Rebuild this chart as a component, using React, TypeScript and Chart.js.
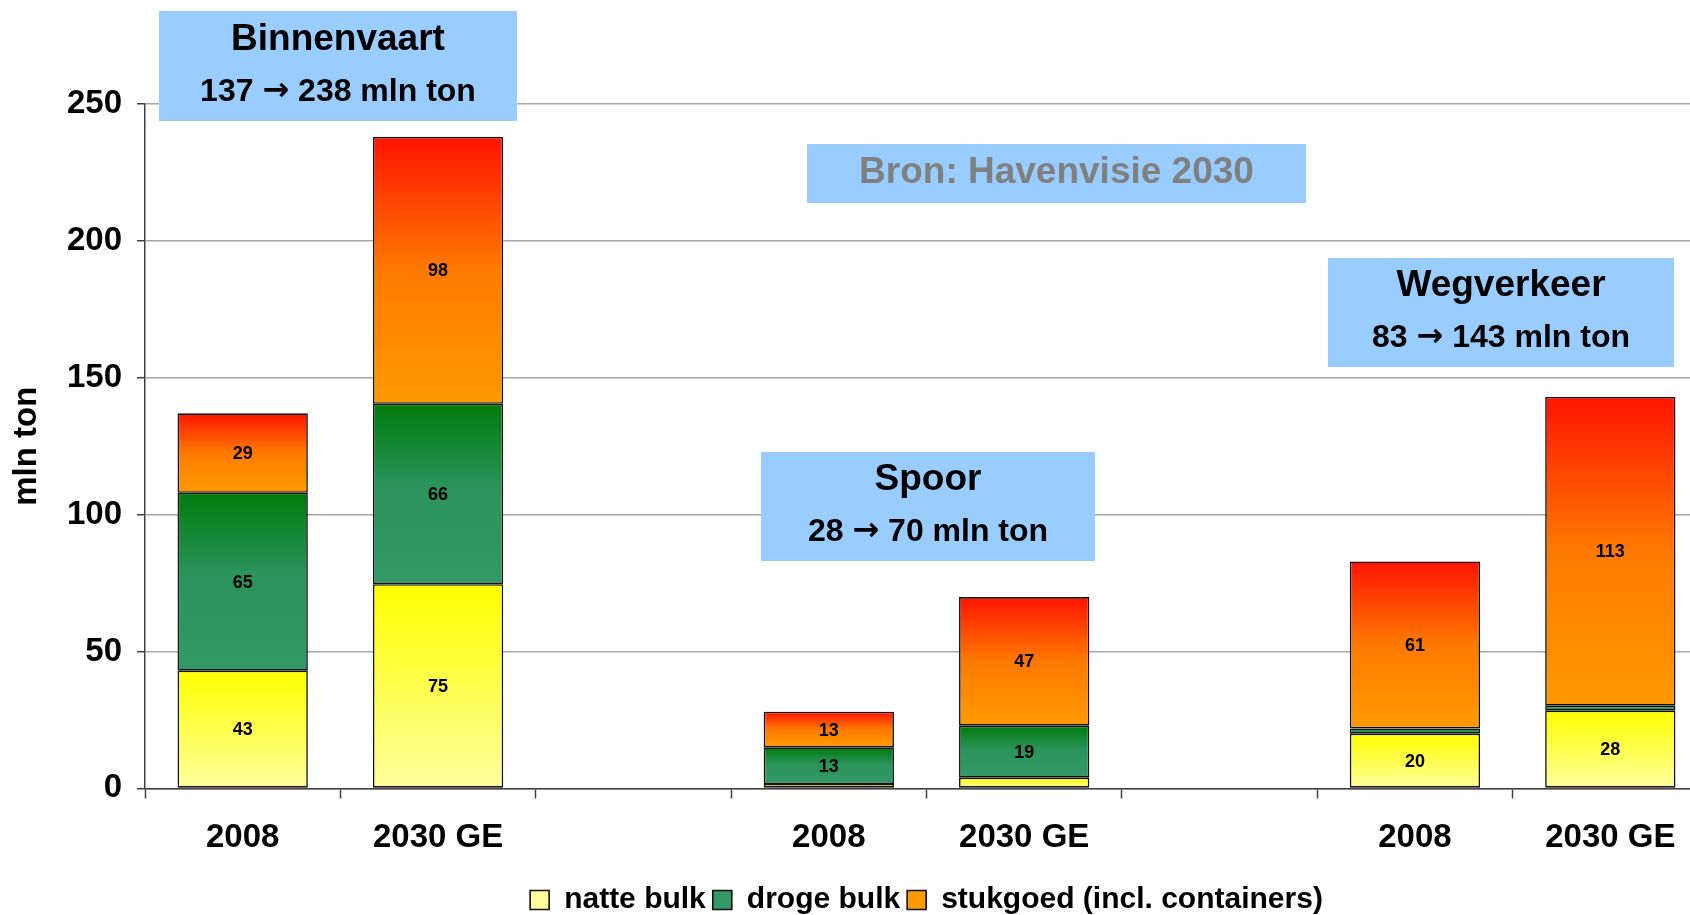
import React, { useEffect, useRef } from 'react';
import { Chart, registerables } from 'chart.js';

Chart.register(...registerables);

const categories = ['2008', '2030 GE', '', '2008', '2030 GE', '', '2008', '2030 GE'];
const seriesNames = ['natte bulk', 'droge bulk', 'stukgoed (incl. containers)'];
const natteBulk = [43, 74.6, null, 1.6, 3.9, null, 20, 28.4];
const drogeBulk = [65, 65.9, null, 13.4, 19, null, 1.9, 1.8];
const stukgoed = [29, 97.5, null, 13, 47, null, 61, 112.8];
const yTicks = [0, 50, 100, 150, 200, 250];

const groupTitles = ['Binnenvaart', 'Spoor', 'Wegverkeer'];
const groupSubtitles = ['137 → 238 mln ton', '28 → 70 mln ton', '83 → 143 mln ton'];
const sourceText = 'Bron: Havenvisie 2030';

const FONT = '"Liberation Sans", Arial, sans-serif';
const ARROW_FONT = '"DejaVu Sans", sans-serif';

type Stop = [number, string];
const natteStops: Stop[] = [[0, '#FFFF00'], [1, '#FFFF9E']];
const drogeStops: Stop[] = [[0, '#007A0A'], [0.45, '#2A935A'], [1, '#339966']];
const stukStops: Stop[] = [[0, '#FF1400'], [0.5, '#FF7A00'], [1, '#FF9A00']];

function gradientFill(stops: Stop[], fallback: string) {
  return (ctx: any) => {
    const chart = ctx.chart;
    const y = chart.scales && chart.scales.y;
    if (ctx.type !== 'data' || !y || !chart.chartArea) return fallback;
    const i = ctx.dataIndex;
    const di = ctx.datasetIndex;
    const v = chart.data.datasets[di].data[i];
    if (v == null) return fallback;
    let start = 0;
    for (let k = 0; k < di; k++) start += chart.data.datasets[k].data[i] ?? 0;
    const top = y.getPixelForValue(start + v);
    const bot = y.getPixelForValue(start);
    if (!isFinite(top) || !isFinite(bot) || Math.abs(bot - top) < 0.5) return stops[0][1];
    const g = chart.ctx.createLinearGradient(0, top, 0, bot);
    stops.forEach(([o, c]) => g.addColorStop(o, c));
    return g;
  };
}

const valueLabels = {
  id: 'valueLabels',
  afterDatasetsDraw(chart: any) {
    const ctx = chart.ctx;
    ctx.save();
    ctx.font = `bold 18px ${FONT}`;
    ctx.fillStyle = '#000';
    ctx.textAlign = 'center';
    ctx.textBaseline = 'middle';
    chart.data.datasets.forEach((ds: any, di: number) => {
      const meta = chart.getDatasetMeta(di);
      meta.data.forEach((el: any, i: number) => {
        const v = ds.data[i];
        if (v == null || v < 8) return;
        ctx.fillText(String(Math.round(v)), el.x, (el.y + el.base) / 2 + 1);
      });
    });
    ctx.restore();
  },
};

const boxes = [
  { x: 159, y: 11, w: 358, h: 110, lines: [
    { t: groupTitles[0], y: 40, size: 37, color: '#000' },
    { t: groupSubtitles[0], y: 92, size: 32, color: '#000' },
  ] },
  { x: 807, y: 144, w: 499, h: 59, lines: [
    { t: sourceText, y: 173, size: 37, color: '#808080' },
  ] },
  { x: 761, y: 452, w: 334, h: 109, lines: [
    { t: groupTitles[1], y: 480, size: 37, color: '#000' },
    { t: groupSubtitles[1], y: 532, size: 32, color: '#000' },
  ] },
  { x: 1328, y: 258, w: 346, h: 109, lines: [
    { t: groupTitles[2], y: 286, size: 37, color: '#000' },
    { t: groupSubtitles[2], y: 338, size: 32, color: '#000' },
  ] },
];

function drawMixed(ctx: any, text: string, cx: number, y: number, size: number) {
  const parts = text.split('→');
  const segs: { t: string; f: string }[] = [];
  parts.forEach((p, i) => {
    if (i > 0) segs.push({ t: '→', f: `bold ${size}px ${ARROW_FONT}` });
    if (p) segs.push({ t: p, f: `bold ${size}px ${FONT}` });
  });
  let total = 0;
  const widths = segs.map((s) => { ctx.font = s.f; const w = ctx.measureText(s.t).width; total += w; return w; });
  let x = cx - total / 2;
  ctx.textAlign = 'left';
  segs.forEach((s, i) => {
    ctx.font = s.f;
    ctx.fillText(s.t, x, y);
    x += widths[i];
  });
}

const annotations = {
  id: 'annotations',
  afterDraw(chart: any) {
    const ctx = chart.ctx;
    ctx.save();
    boxes.forEach((b) => {
      ctx.fillStyle = '#99CCFF';
      ctx.fillRect(b.x, b.y, b.w, b.h);
      ctx.textBaseline = 'middle';
      b.lines.forEach((l) => {
        ctx.fillStyle = l.color;
        drawMixed(ctx, l.t, b.x + b.w / 2, l.y, l.size);
      });
    });
    ctx.restore();
  },
};

export default function App() {
  const ref = useRef<HTMLCanvasElement | null>(null);

  useEffect(() => {
    if (!ref.current) return;
    const common = {
      borderColor: '#111',
      borderWidth: 1.6,
      borderSkipped: false,
      categoryPercentage: 1,
      barPercentage: 0.667,
    };
    const chart = new Chart(ref.current, {
      type: 'bar',
      data: {
        labels: categories,
        datasets: [
          { label: seriesNames[0], data: natteBulk, backgroundColor: gradientFill(natteStops, '#FFFF40'), ...common },
          { label: seriesNames[1], data: drogeBulk, backgroundColor: gradientFill(drogeStops, '#1E8A3C'), ...common },
          { label: seriesNames[2], data: stukgoed, backgroundColor: gradientFill(stukStops, '#FF6A00'), ...common },
        ] as any,
      },
      options: {
        animation: false,
        responsive: true,
        maintainAspectRatio: false,
        layout: { padding: { top: 104, right: 4, bottom: -10, left: 0 } },
        plugins: {
          legend: {
            position: 'bottom',
            fullSize: false,
            labels: {
              boxWidth: 19,
              boxHeight: 19,
              padding: 7,
              color: '#000',
              font: { family: FONT, size: 30, weight: 'bold' },
            },
          },
          tooltip: { enabled: false },
        },
        scales: {
          x: {
            stacked: true,
            offset: true,
            grid: {
              display: true,
              drawOnChartArea: false,
              offset: true,
              tickLength: 10,
              tickColor: '#404040',
              tickWidth: 1.5,
            },
            border: { color: '#404040', width: 1.5 },
            ticks: {
              autoSkip: false,
              maxRotation: 0,
              color: '#000',
              padding: 20,
              font: { family: FONT, size: 33, weight: 'bold' },
            },
          },
          y: {
            stacked: true,
            min: 0,
            max: 250,
            afterBuildTicks: (s: any) => { s.ticks = yTicks.map((v) => ({ value: v })); },
            afterFit: (s: any) => { s.width = 145; },
            grid: { color: '#A6A6A6', lineWidth: 1.5, tickLength: 8, tickColor: '#404040' },
            border: { color: '#404040', width: 1.5 },
            ticks: {
              color: '#000',
              padding: 15,
              font: { family: FONT, size: 33, weight: 'bold' },
            },
            title: {
              display: true,
              text: 'mln ton',
              color: '#000',
              font: { family: FONT, size: 33, weight: 'bold' },
              padding: { top: 7, bottom: 0 },
            },
          },
        },
      } as any,
      plugins: [valueLabels, annotations],
    });
    return () => chart.destroy();
  }, []);

  return (
    <div style={{ position: 'fixed', left: 0, top: 0, width: 1690, height: 915, overflow: 'hidden', background: '#fff' }}>
      <div style={{ position: 'relative', width: 1712, height: 915 }}>
        <canvas ref={ref} />
      </div>
    </div>
  );
}
